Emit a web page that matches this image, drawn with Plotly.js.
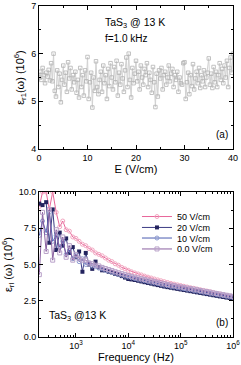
<!DOCTYPE html>
<html><head><meta charset="utf-8">
<script src="https://cdn.plot.ly/plotly-3.0.1.min.js"></script>
<style>html,body{margin:0;padding:0;background:#fff}#c{width:241px;height:365px}</style>
</head><body><div id="c"></div>
<script>
const fieldE = [0,0.25,0.5,0.75,1,1.25,1.5,1.75,2,2.25,2.5,2.75,3,3.25,3.5,3.75,4,4.25,4.5,4.75,5,5.25,5.5,5.75,6,6.25,6.5,6.75,7,7.25,7.5,7.75,8,8.25,8.5,8.75,9,9.25,9.5,9.75,10,10.25,10.5,10.75,11,11.25,11.5,11.75,12,12.25,12.5,12.75,13,13.25,13.5,13.75,14,14.25,14.5,14.75,15,15.25,15.5,15.75,16,16.25,16.5,16.75,17,17.25,17.5,17.75,18,18.25,18.5,18.75,19,19.25,19.5,19.75,20,20.25,20.5,20.75,21,21.25,21.5,21.75,22,22.25,22.5,22.75,23,23.25,23.5,23.75,24,24.25,24.5,24.75,25,25.25,25.5,25.75,26,26.25,26.5,26.75,27,27.25,27.5,27.75,28,28.25,28.5,28.75,29,29.25,29.5,29.75,30,30.25,30.5,30.75,31,31.25,31.5,31.75,32,32.25,32.5,32.75,33,33.25,33.5,33.75,34,34.25,34.5,34.75,35,35.25,35.5,35.75,36,36.25,36.5,36.75,37,37.25,37.5,37.75,38,38.25,38.5,38.75,39,39.25,39.5,39.75,40];
const epsVsE = [5.50,5.62,5.45,5.70,5.55,5.38,5.60,5.52,5.66,5.44,
5.80,5.42,6.00,5.22,5.10,5.65,5.30,5.58,4.98,5.45,
5.75,5.35,5.60,5.20,5.82,5.48,5.70,5.25,5.55,5.40,
5.62,5.18,5.45,5.08,5.70,5.30,5.55,5.12,5.65,5.42,
5.93,5.05,5.40,5.60,4.87,5.50,5.22,5.84,5.30,5.15,
5.45,5.62,5.20,5.75,5.38,5.55,5.05,5.68,5.32,5.80,
5.50,5.25,5.72,5.40,5.85,5.12,5.60,5.35,5.78,5.48,
5.20,5.65,5.92,5.30,6.00,5.45,5.08,5.70,5.38,5.58,
5.85,5.42,5.62,5.25,5.75,5.50,5.35,5.68,5.55,5.80,
5.30,5.60,5.45,5.18,5.72,5.40,4.88,5.58,5.10,5.65,
5.48,5.70,5.25,5.55,5.62,5.35,5.50,5.75,5.42,5.58,
5.68,5.30,5.55,5.45,5.62,5.20,5.50,5.38,5.35,5.80,
5.82,5.05,5.40,5.60,5.15,5.55,5.32,5.78,5.25,5.48,
5.62,5.38,5.70,5.28,5.55,5.42,5.65,5.30,5.50,5.60,
5.90,5.35,5.58,5.28,5.72,5.40,5.62,5.30,5.55,5.80,
5.45,5.68,5.38,5.75,5.50,5.85,5.30,5.70,5.92,5.60,
6.00];

const freqHz = [200,230,270,310,360,420,490,560,650,750,870,1000,1150,1330,1540,1780,2050,2370,2740,3160,3650,4220,4870,5620,6490,7500,8660,10000,11500,13300,15400,17800,20500,23700,27400,31600,36500,42200,48700,56200,64900,75000,86600,100000,115000,133000,154000,178000,205000,237000,274000,316000,365000,422000,487000,562000,649000,750000,866000,1000000];
const eps50 = [9.0,10.0,10.0,8.8,10.0,8.6,7.6,8.0,7.4,7.3,6.9,6.8,6.6,6.4,6.3,6.1,6.0,5.8,5.7,5.6,5.45,5.3,5.2,5.05,4.95,4.8,4.7,4.6,4.5,4.42,4.35,4.28,4.2,4.13,4.07,4.0,3.94,3.88,3.82,3.76,3.7,3.65,3.6,3.55,3.5,3.45,3.4,3.36,3.31,3.26,3.21,3.17,3.12,3.07,3.02,2.97,2.92,2.87,2.82,2.77];
const eps20 = [9.2,9.1,9.3,6.5,8.8,6.0,7.2,6.3,6.8,5.8,6.2,5.5,5.9,4.5,5.8,5.0,4.7,5.2,4.8,4.6,4.6,4.5,4.45,4.35,4.3,4.2,4.1,4.0,3.97,3.93,3.88,3.83,3.78,3.73,3.68,3.63,3.58,3.53,3.48,3.44,3.4,3.36,3.32,3.28,3.24,3.2,3.16,3.12,3.08,3.04,3.0,2.96,2.92,2.88,2.84,2.8,2.76,2.72,2.69,2.66];
const eps10 = [7.0,8.0,7.2,8.6,6.6,7.0,6.2,6.6,5.7,6.0,5.4,5.6,5.2,5.4,5.0,5.1,4.9,4.85,4.75,4.7,4.6,4.55,4.48,4.4,4.33,4.27,4.2,4.14,4.08,4.03,3.98,3.93,3.88,3.83,3.78,3.73,3.68,3.63,3.58,3.53,3.49,3.45,3.41,3.37,3.33,3.29,3.25,3.21,3.17,3.13,3.09,3.05,3.01,2.97,2.93,2.89,2.85,2.81,2.77,2.73];
const eps0 = [4.3,8.6,5.9,8.8,5.3,7.4,5.8,6.9,5.5,6.3,5.3,5.7,5.4,5.3,5.3,5.1,5.05,4.95,4.9,4.8,4.72,4.65,4.58,4.5,4.43,4.37,4.3,4.24,4.18,4.12,4.07,4.02,3.97,3.92,3.87,3.82,3.77,3.72,3.67,3.62,3.58,3.54,3.5,3.46,3.42,3.38,3.34,3.3,3.26,3.21,3.17,3.13,3.09,3.04,3.0,2.96,2.92,2.88,2.84,2.8];
const seriesNames = ['50 V/cm','20 V/cm','10 V/cm','0.0 V/cm'];
const xTicksTop = [0,10,20,30,40];
const yTicksTop = [4,5,6,7];
const xTicksBot = [1000,10000,100000,1000000];
const xTickTextBot = ['10<sup>3</sup>','10<sup>4</sup>','10<sup>5</sup>','10<sup>6</sup>'];
const yTicksBot = [0,2.5,5,7.5,10];
const yTickTextBot = ['0.0','2.5','5.0','7.5','10.0'];

const F = 'Liberation Sans, Arial, sans-serif';
const traces = [
 {x: fieldE, y: epsVsE, xaxis:'x', yaxis:'y', mode:'lines+markers', showlegend:false,
  line:{color:'#d2d2d2', width:1}, marker:{symbol:'square-open', size:3.5, color:'#b2b2b2', line:{width:0.8}}},
 {x: freqHz, y: eps50, xaxis:'x2', yaxis:'y2', mode:'lines+markers', name: seriesNames[0], legend:'legend',
  line:{color:'#e8669a', width:1}, marker:{symbol:'circle-open', size:4, color:'#f2a6c0', line:{width:1}}},
 {x: freqHz, y: eps20, xaxis:'x2', yaxis:'y2', mode:'lines+markers', name: seriesNames[1], legend:'legend2',
  line:{color:'#3c3c84', width:1}, marker:{symbol:'square', size:4, color:'#23235e'}},
 {x: freqHz, y: eps10, xaxis:'x2', yaxis:'y2', mode:'lines+markers', name: seriesNames[2], legend:'legend3',
  line:{color:'#4a5cb0', width:1}, marker:{symbol:'circle-open', size:4, color:'#8c9ad0', line:{width:1}}},
 {x: freqHz, y: eps0, xaxis:'x2', yaxis:'y2', mode:'lines+markers', name: seriesNames[3], legend:'legend4',
  line:{color:'#8a60a0', width:1}, marker:{symbol:'square-open', size:4, color:'#b8a0c8', line:{width:1}}}
];
const ax = {showline:true, linecolor:'#000', linewidth:1, mirror:'ticks', ticks:'inside', ticklen:4, tickcolor:'#000',
  showgrid:false, zeroline:false, tickfont:{family:F, size:9, color:'#000'}};
function leg(py){ return {x:0.505, y:py, xanchor:'left', yanchor:'middle', bgcolor:'rgba(0,0,0,0)',
  font:{family:F, size:9}, itemwidth:30, borderwidth:0}; }
const layout = {
  width:241, height:365, margin:{l:39, r:8, t:6, b:28}, paper_bgcolor:'#fff', plot_bgcolor:'#fff',
  font:{family:F, color:'#000'},
  xaxis: Object.assign({}, ax, {domain:[0,1], anchor:'y', range:[0,40], tickvals:xTicksTop,
    minor:{ticks:'inside', ticklen:2, dtick:5, tickcolor:'#000'},
    title:{text:'E (V/cm)', font:{family:F, size:11}, standoff:2}}),
  yaxis: Object.assign({}, ax, {domain:[0.568,1], anchor:'x', range:[4,7], tickvals:yTicksTop,
    minor:{ticks:'inside', ticklen:2, dtick:0.5, tickcolor:'#000'},
    title:{text:'ε<sub>r1</sub>(ω) (10<sup>6</sup>)', font:{family:F, size:11}, standoff:4}}),
  xaxis2: Object.assign({}, ax, {domain:[0,1], anchor:'y2', type:'log', range:[Math.log10(197), 6],
    tickvals:xTicksBot, ticktext:xTickTextBot,
    minor:{ticks:'inside', ticklen:2, dtick:'D1', tickcolor:'#000'},
    title:{text:'Frequency (Hz)', font:{family:F, size:11}, standoff:2}}),
  yaxis2: Object.assign({}, ax, {domain:[0,0.438], anchor:'x2', range:[0,10], tickvals:yTicksBot, ticktext:yTickTextBot,
    minor:{ticks:'inside', ticklen:2, dtick:1.25, tickcolor:'#000'},
    title:{text:'ε<sub>rl</sub> (ω) (10<sup>6</sup>)', font:{family:F, size:11}, standoff:4}}),
  legend: leg(0.364), legend2: leg(0.331), legend3: leg(0.299), legend4: leg(0.266),
  annotations:[
    {xref:'paper', yref:'paper', x:0.33, y:0.975, xanchor:'left', yanchor:'top', showarrow:false,
     text:'TaS<sub>3</sub> @ 13 K', font:{family:F, size:10.5}},
    {xref:'paper', yref:'paper', x:0.33, y:0.925, xanchor:'left', yanchor:'top', showarrow:false,
     text:'f=1.0 kHz', font:{family:F, size:10}},
    {xref:'paper', yref:'paper', x:0.985, y:0.59, xanchor:'right', yanchor:'bottom', showarrow:false,
     text:'(a)', font:{family:F, size:10}},
    {xref:'paper', yref:'paper', x:0.04, y:0.035, xanchor:'left', yanchor:'bottom', showarrow:false,
     text:'TaS<sub>3</sub> @13 K', font:{family:F, size:10.5}},
    {xref:'paper', yref:'paper', x:0.985, y:0.02, xanchor:'right', yanchor:'bottom', showarrow:false,
     text:'(b)', font:{family:F, size:10}}
  ]
};
Plotly.newPlot('c', traces, layout, {staticPlot:true, displayModeBar:false});
</script>
</body></html>
